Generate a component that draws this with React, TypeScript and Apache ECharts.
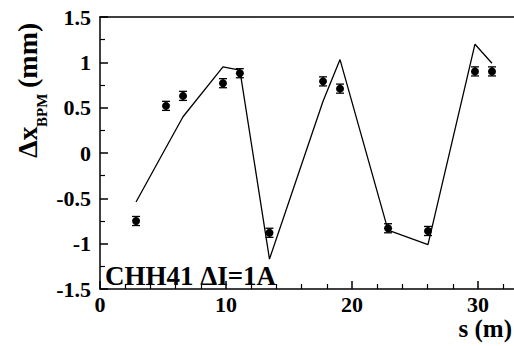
import React, { useEffect, useRef } from "react";
import * as echarts from "echarts";

const bpmS = [2.86, 5.24, 6.59, 9.76, 11.1, 13.45, 17.7, 19.05, 22.86, 26.03, 29.76, 31.11];
const measured = [-0.75, 0.52, 0.63, 0.77, 0.88, -0.88, 0.79, 0.71, -0.83, -0.86, 0.9, 0.9];
const measErr = [0.05, 0.05, 0.05, 0.05, 0.05, 0.05, 0.05, 0.05, 0.05, 0.05, 0.05, 0.05];
const model = [-0.54, 0.06, 0.4, 0.95, 0.915, -1.17, 0.57, 1.03, -0.85, -1.01, 1.2, 0.99];
const xTicks = [0, 10, 20, 30];
const yLabels = ["-1.5", "-1", "-0.5", "0", "0.5", "1", "1.5"];

const FONT = "Liberation Serif";

export default function App() {
  const ref = useRef<HTMLDivElement>(null);
  useEffect(() => {
    if (!ref.current) return;
    const chart = echarts.init(ref.current, null, { renderer: "svg" });
    const axisLabelStyle = {
      fontFamily: FONT,
      fontWeight: "bold" as const,
      fontSize: 22,
      color: "#000",
    };
    const lineStyle = { color: "#000", width: 1.5 };
    const txt = (size: number) => ({
      fontFamily: FONT,
      fontWeight: "bold" as const,
      fontSize: size,
      fill: "#000",
    });
    const option: any = {
      animation: false,
      backgroundColor: "#fff",
      textStyle: { fontFamily: FONT },
      grid: { left: 100, top: 17, width: 504, height: 272, outerBoundsMode: "none", containLabel: false },
      xAxis: [
        {
          type: "value",
          min: 0,
          max: 40,
          interval: 10,
          axisLine: { show: true, onZero: false, lineStyle },
          axisTick: { show: true, inside: true, length: 8, lineStyle },
          minorTick: { show: true, splitNumber: 5, length: 5, lineStyle: { color: "#000", width: 1.2 } },
          splitLine: { show: false },
          axisLabel: {
            ...axisLabelStyle,
            margin: 4,
            formatter: (v: number) => (xTicks.includes(v) ? String(v) : ""),
          },
        },
        {
          type: "value",
          position: "top",
          min: 0,
          max: 40,
          interval: 10,
          axisLine: { show: true, onZero: false, lineStyle },
          axisTick: { show: false },
          axisLabel: { show: false },
          splitLine: { show: false },
        },
      ],
      yAxis: {
        type: "value",
        min: -1.5,
        max: 1.5,
        interval: 0.5,
        axisLine: { show: true, onZero: false, lineStyle },
        axisTick: { show: true, inside: true, length: 8, lineStyle },
        minorTick: { show: true, splitNumber: 2, length: 5, lineStyle: { color: "#000", width: 1.2 } },
        splitLine: { show: false },
        axisLabel: {
          ...axisLabelStyle,
          margin: 9,
          formatter: (v: number) => {
            const s = String(Math.round(v * 10) / 10);
            return yLabels.includes(s) ? s : "";
          },
        },
      },
      series: [
        {
          type: "line",
          data: model.map((v, i) => [bpmS[i], v]),
          symbol: "none",
          lineStyle: { color: "#000", width: 1.3 },
          z: 2,
        },
        {
          type: "custom",
          data: measured.map((v, i) => [bpmS[i], v, measErr[i]]),
          encode: { x: 0, y: 1 },
          renderItem: (params: any, api: any) => {
            const x = api.value(0);
            const y = api.value(1);
            const e = api.value(2);
            const top = api.coord([x, y + e]);
            const bot = api.coord([x, y - e]);
            const w = 4;
            const st = { stroke: "#000", lineWidth: 1.3 };
            return {
              type: "group",
              children: [
                { type: "line", shape: { x1: top[0], y1: top[1], x2: bot[0], y2: bot[1] }, style: st },
                { type: "line", shape: { x1: top[0] - w, y1: top[1], x2: top[0] + w, y2: top[1] }, style: st },
                { type: "line", shape: { x1: bot[0] - w, y1: bot[1], x2: bot[0] + w, y2: bot[1] }, style: st },
              ],
            };
          },
          z: 3,
        },
        {
          type: "scatter",
          data: measured.map((v, i) => [bpmS[i], v]),
          symbol: "circle",
          symbolSize: 8,
          itemStyle: { color: "#000", opacity: 1 },
          z: 4,
        },
      ],
      graphic: [
        {
          type: "group",
          x: 37,
          y: 158,
          rotation: Math.PI / 2,
          children: [
            {
              type: "text",
              x: 0,
              y: -9.5,
              style: { text: "Δx", ...txt(28), align: "left", verticalAlign: "middle" },
            },
            {
              type: "text",
              x: 31,
              y: 4.9,
              style: { text: "BPM", ...txt(15), align: "left", verticalAlign: "middle" },
            },
            {
              type: "text",
              x: 70,
              y: -9.5,
              style: { text: "(mm)", ...txt(28), align: "left", verticalAlign: "middle" },
            },
          ],
        },
        {
          type: "text",
          x: 512,
          y: 328.5,
          style: { text: "s (m)", ...txt(25), align: "right", verticalAlign: "middle" },
        },
        {
          type: "text",
          x: 105,
          y: 275.8,
          style: { text: "CHH41 ΔI=1A", ...txt(27), align: "left", verticalAlign: "middle" },
        },
      ],
    };
    chart.setOption(option);
    return () => chart.dispose();
  }, []);
  return (
    <div
      ref={ref}
      style={{ position: "fixed", left: 0, top: 0, width: 514, height: 346, background: "#fff" }}
    />
  );
}
